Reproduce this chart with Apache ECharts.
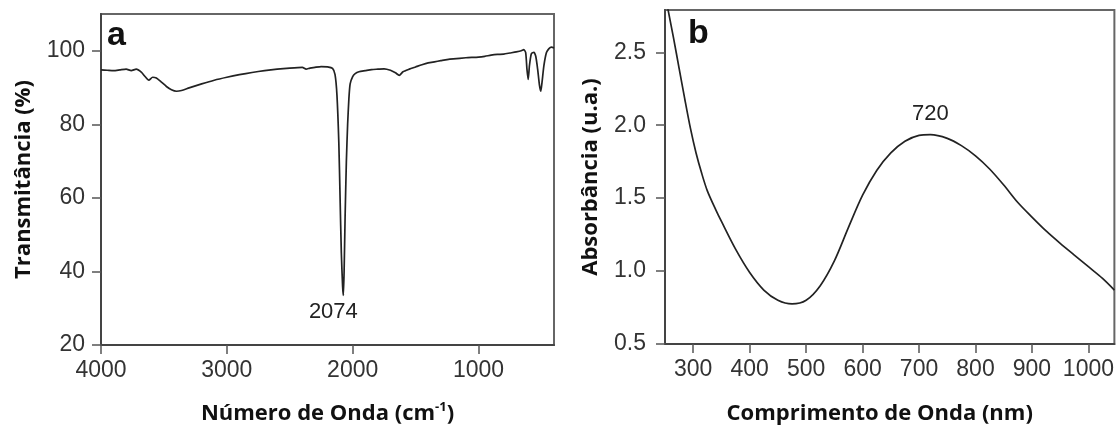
<!DOCTYPE html>
<html>
<head>
<meta charset="utf-8">
<script src="https://cdn.jsdelivr.net/npm/echarts@6/dist/echarts.min.js"></script>
<style>
html,body{margin:0;padding:0;background:#fff;}
#c{width:1117px;height:432px;}
</style>
</head>
<body>
<div id="c"></div>
<script>
// ---- Panel a: FTIR spectrum ----
const irWavenumber = [4000,3950,3900,3850,3800,3760,3720,3680,3650,3620,3590,3560,3520,3480,3440,3400,3360,3300,3200,3100,3000,2900,2800,2700,2600,2500,2400,2370,2340,2300,2250,2200,2160,2140,2125,2110,2100,2090,2080,2074,2068,2060,2050,2040,2030,2020,2000,1980,1950,1900,1850,1800,1750,1700,1660,1630,1600,1550,1500,1450,1400,1350,1300,1250,1200,1100,1000,950,900,850,800,750,700,660,640,625,615,605,595,580,560,545,530,515,505,495,480,460,440,420,400];
const irTransmittance = [94.8,94.7,94.6,94.8,95.0,94.6,95.0,94.2,93.0,92.0,92.8,92.6,91.5,90.3,89.4,89.0,89.2,89.9,91.0,92.0,92.8,93.5,94.1,94.6,95.0,95.3,95.5,95.0,95.3,95.5,95.7,95.6,95.2,93.5,88,75,60,45,36,33.5,40,55,70,80,87,91,93,93.8,94.3,94.6,94.9,95.0,95.1,94.7,94.0,93.3,94.3,95.0,95.6,96.2,96.7,97.0,97.3,97.6,97.8,98.1,98.3,98.5,98.8,99.0,99.1,99.4,99.7,100.0,100.3,99.5,95,92.2,96,99.2,99.6,98.5,95,90.5,89.0,91.5,96,99.5,100.6,101.0,100.8];
const irTicksX = [1000,2000,3000,4000];
const irTicksY = [20,40,60,80,100];
const irPeak = [2074, 33.5];

// ---- Panel b: UV-Vis spectrum ----
const uvWavelength = [255,265,275,285,295,305,315,325,340,350,375,400,425,450,475,500,525,550,575,600,625,650,675,700,720,750,775,800,825,850,875,900,925,950,975,1000,1025,1046];
const uvAbsorbance = [2.80,2.60,2.39,2.18,1.98,1.81,1.67,1.55,1.42,1.34,1.15,0.99,0.87,0.80,0.775,0.80,0.90,1.07,1.30,1.52,1.69,1.81,1.89,1.93,1.935,1.91,1.86,1.79,1.70,1.59,1.47,1.37,1.275,1.19,1.11,1.03,0.95,0.87];
const uvTicksX = [300,400,500,600,700,800,900,1000];
const uvTicksY = [0.5,1.0,1.5,2.0,2.5];
const uvPeak = [720, 1.935];

const tickFont = {fontFamily:'Liberation Sans', fontSize:23, color:'#333'};
const nameFont = {fontFamily:'Open Sans', fontWeight:'bold', fontSize:22, color:'#111'};
const axisLine = {show:true, lineStyle:{color:'#444', width:2}};
const axisTick = (vals) => ({show:true, inside:false, length:9, customValues:vals, lineStyle:{color:'#555', width:1.5}});

const chart = echarts.init(document.getElementById('c'), null, {renderer:'canvas'});
chart.setOption({
  animation:false,
  backgroundColor:'#fff',
  grid:[
    {left:101, top:14, width:453, height:337, show:true, borderColor:'#666', borderWidth:2, containLabel:false},
    {left:665, top:10, width:450, height:334, show:true, borderColor:'#666', borderWidth:2, containLabel:false}
  ],
  graphic:[
    {type:'text', left:107, top:19, style:{text:'a', font:'bold 34px "Liberation Sans"', fill:'#111'}},
    {type:'text', left:688, top:17, style:{text:'b', font:'bold 34px "Liberation Sans"', fill:'#111'}}
  ],
  xAxis:[
    {gridIndex:0, type:'value', min:400, max:4000, inverse:true,
     splitLine:{show:false}, axisLine:axisLine, axisTick:axisTick(irTicksX),
     axisLabel:Object.assign({customValues:irTicksX, margin:14, formatter:v=>String(v)}, tickFont),
     name:'Número de Onda (cm{sup|-1})', nameLocation:'middle', nameGap:56,
     nameTextStyle:Object.assign({lineHeight:26, rich:{sup:{fontFamily:'Open Sans', fontWeight:'bold', fontSize:13, lineHeight:26, verticalAlign:'top', padding:[0,0,10,0]}}}, nameFont)},
    {gridIndex:1, type:'value', min:250, max:1046,
     splitLine:{show:false}, axisLine:axisLine, axisTick:axisTick(uvTicksX),
     axisLabel:Object.assign({customValues:uvTicksX, margin:14, formatter:v=>String(v)}, tickFont),
     name:'Comprimento de Onda (nm)', nameLocation:'middle', nameGap:59,
     nameTextStyle:Object.assign({padding:[0,20,0,0]}, nameFont)}
  ],
  yAxis:[
    {gridIndex:0, type:'value', min:20, max:110,
     splitLine:{show:false}, axisLine:axisLine, axisTick:axisTick(irTicksY),
     axisLabel:Object.assign({customValues:irTicksY, margin:16, formatter:v=>String(v)}, tickFont),
     name:'Transmitância (%)', nameLocation:'middle', nameGap:66, nameRotate:90,
     nameTextStyle:nameFont},
    {gridIndex:1, type:'value', min:0.5, max:2.79,
     splitLine:{show:false}, axisLine:axisLine, axisTick:axisTick(uvTicksY),
     axisLabel:Object.assign({customValues:uvTicksY, margin:19, formatter:v=>v.toFixed(1)}, tickFont),
     name:'Absorbância (u.a.)', nameLocation:'middle', nameGap:63, nameRotate:90,
     nameTextStyle:nameFont}
  ],
  series:[
    {type:'line', xAxisIndex:0, yAxisIndex:0, showSymbol:false, smooth:0.2,
     data:irWavenumber.map((w,i)=>[w, irTransmittance[i]]),
     lineStyle:{color:'#222', width:1.7},
     markPoint:{symbol:'circle', symbolSize:0, silent:true,
       data:[{coord:irPeak, label:{show:true, formatter:String(irPeak[0]), position:'bottom', distance:6, offset:[-10,0], fontFamily:'Liberation Sans', fontSize:22, color:'#222'}}]}},
    {type:'line', xAxisIndex:1, yAxisIndex:1, showSymbol:false, smooth:0.3,
     data:uvWavelength.map((w,i)=>[w, uvAbsorbance[i]]),
     lineStyle:{color:'#222', width:1.7},
     markPoint:{symbol:'circle', symbolSize:0, silent:true,
       data:[{coord:uvPeak, label:{show:true, formatter:String(uvPeak[0]), position:'top', distance:10, fontFamily:'Liberation Sans', fontSize:22, color:'#222'}}]}}
  ]
});
</script>
</body>
</html>
